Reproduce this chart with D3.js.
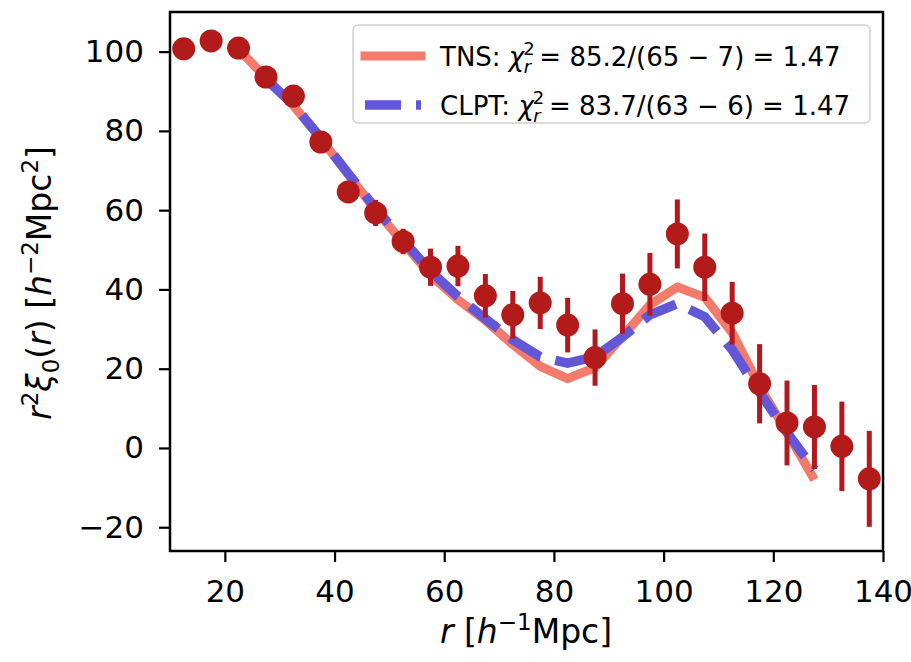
<!DOCTYPE html>
<html>
<head>
<meta charset="utf-8">
<script src="https://cdn.jsdelivr.net/npm/d3@7"></script>
<style>
  body { margin: 0; background: #fff; }
  svg text { font-family: "DejaVu Sans", sans-serif; fill: #000; }
</style>
</head>
<body>
<svg width="911" height="662"></svg>
<script>
// bin centres (h^-1 Mpc) and measured r^2 xi_0
var rData = [12.5, 17.5, 22.5, 27.5, 32.5, 37.5, 42.5, 47.5, 52.5, 57.5, 62.5, 67.5, 72.5,
             77.5, 82.5, 87.5, 92.5, 97.5, 102.5, 107.5, 112.5, 117.5, 122.5, 127.5, 132.5, 137.5];
var xiData = [100.7, 102.7, 100.9, 93.6, 88.8, 77.2, 64.6, 59.3, 52.1, 45.6, 45.9, 38.4, 33.6,
              36.6, 31.0, 22.8, 36.4, 41.3, 54.0, 45.6, 34.0, 16.2, 6.3, 5.3, 0.4, -7.8];
var xiErr = [0.8, 0.9, 1.0, 1.3, 1.6, 2.0, 2.6, 3.3, 3.2, 4.7, 5.1, 5.5, 6.0,
             6.6, 6.9, 7.1, 7.6, 7.9, 8.7, 8.5, 7.9, 10.0, 10.7, 10.6, 11.3, 12.1];

// model curves
var rTNS = [22.5, 27.5, 32.5, 37.5, 42.5, 47.5, 52.5, 57.5, 62.5, 67.5, 72.5, 77.5,
            82.5, 87.5, 92.5, 97.5, 102.5, 107.5, 112.5, 117.5, 122.5, 127.5];
var xiTNS = [100.6, 93.4, 86.4, 78.0, 69.0, 60.0, 51.8, 43.6, 37.4, 32.2, 26.1, 20.6,
             17.5, 20.3, 28.1, 36.1, 40.6, 38.0, 29.1, 15.5, 3.9, -8.0];
var rCLPT = [27.5, 32.5, 37.5, 42.5, 47.5, 52.5, 57.5, 62.5, 67.5, 72.5, 77.5,
             82.5, 87.5, 92.5, 97.5, 102.5, 107.5, 112.5, 117.5, 122.5, 127.5];
var xiCLPT = [93.0, 86.6, 78.2, 69.2, 60.4, 52.4, 44.6, 38.2, 32.6, 27.3, 23.0,
              21.4, 23.0, 28.0, 33.6, 36.4, 33.1, 24.8, 14.0, 3.9, -5.5];

var xTicks = [20, 40, 60, 80, 100, 120, 140];
var yTicks = [-20, 0, 20, 40, 60, 80, 100];

var svg = d3.select("svg");

var x = d3.scaleLinear().domain([10, 140]).range([170, 883]);
var y = d3.scaleLinear().domain([-26, 110]).range([551, 12]);

var line = d3.line()
    .x(function(d) { return x(d[0]); })
    .y(function(d) { return y(d[1]); });

// TNS model
svg.append("path")
    .datum(d3.zip(rTNS, xiTNS))
    .attr("d", line)
    .attr("fill", "none")
    .attr("stroke", "#f47a6c")
    .attr("stroke-width", 9)
    .attr("stroke-linejoin", "round");

// CLPT model
svg.append("path")
    .datum(d3.zip(rCLPT, xiCLPT))
    .attr("d", line)
    .attr("fill", "none")
    .attr("stroke", "#6257d6")
    .attr("stroke-width", 9.5)
    .attr("stroke-dasharray", "36,15");

// data with error bars
var pts = d3.zip(rData, xiData, xiErr);

svg.append("g").selectAll("line")
    .data(pts)
    .enter().append("line")
    .attr("x1", function(d) { return x(d[0]); })
    .attr("x2", function(d) { return x(d[0]); })
    .attr("y1", function(d) { return y(d[1] - d[2]); })
    .attr("y2", function(d) { return y(d[1] + d[2]); })
    .attr("stroke", "#b5171f")
    .attr("stroke-width", 5);

svg.append("g").selectAll("circle")
    .data(pts)
    .enter().append("circle")
    .attr("cx", function(d) { return x(d[0]); })
    .attr("cy", function(d) { return y(d[1]); })
    .attr("r", 11.5)
    .attr("fill", "#b31b1b");

// axes
var xAxis = svg.append("g")
    .attr("transform", "translate(0,551)")
    .call(d3.axisBottom(x).tickValues(xTicks).tickSize(11).tickSizeOuter(0));
xAxis.select(".domain").remove();
xAxis.selectAll(".tick line").attr("stroke-width", 2.2);
xAxis.selectAll(".tick text")
    .attr("y", 51).attr("dy", 0)
    .style("font-family", "DejaVu Sans")
    .style("font-size", "31px");

var yAxis = svg.append("g")
    .attr("transform", "translate(170,0)")
    .call(d3.axisLeft(y).tickValues(yTicks).tickSize(11).tickSizeOuter(0)
      .tickFormat(function(d) { return d < 0 ? "\u2212" + Math.abs(d) : d; }));
yAxis.select(".domain").remove();
yAxis.selectAll(".tick line").attr("stroke-width", 2.2);
yAxis.selectAll(".tick text")
    .attr("x", -26)
    .style("font-family", "DejaVu Sans")
    .style("font-size", "31px");

// frame
svg.append("rect")
    .attr("x", 170).attr("y", 12)
    .attr("width", 713).attr("height", 539)
    .attr("fill", "none")
    .attr("stroke", "#000")
    .attr("stroke-width", 2.5);

// axis labels
var xl = svg.append("text")
    .attr("x", 526).attr("y", 643)
    .attr("text-anchor", "middle")
    .style("font-size", "33px");
xl.append("tspan").style("font-style", "italic").text("r");
xl.append("tspan").text(" [");
xl.append("tspan").style("font-style", "italic").text("h");
xl.append("tspan").attr("dy", -13).style("font-size", "23px").text("\u22121");
xl.append("tspan").attr("dy", 13).text("Mpc]");

var yl = svg.append("text")
    .attr("transform", "translate(51,283) rotate(-90)")
    .attr("text-anchor", "middle")
    .style("font-size", "33px");
yl.append("tspan").style("font-style", "italic").text("r");
yl.append("tspan").attr("dy", -13).style("font-size", "23px").text("2");
yl.append("tspan").attr("dy", 13).style("font-style", "italic").text("\u03be");
yl.append("tspan").attr("dy", 8).style("font-size", "23px").text("0");
yl.append("tspan").attr("dy", -8).text("(");
yl.append("tspan").style("font-style", "italic").text("r");
yl.append("tspan").text(") [");
yl.append("tspan").style("font-style", "italic").text("h");
yl.append("tspan").attr("dy", -13).style("font-size", "23px").text("\u22122");
yl.append("tspan").attr("dy", 13).text("Mpc");
yl.append("tspan").attr("dy", -13).style("font-size", "23px").text("2");
yl.append("tspan").attr("dy", 13).text("]");

// legend
var legendItems = [
  { name: "TNS", chi: "85.2", n: "65", p: "7", val: "1.47", color: "#f47a6c", dash: null, w: 9 },
  { name: "CLPT", chi: "83.7", n: "63", p: "6", val: "1.47", color: "#6257d6", dash: "36,15", w: 9.5 }
];

var legend = svg.append("g");
legend.append("rect")
    .attr("x", 353).attr("y", 25)
    .attr("width", 517).attr("height", 98)
    .attr("rx", 5)
    .attr("fill", "#fff").attr("fill-opacity", 0.8)
    .attr("stroke", "#d0d0d0").attr("stroke-width", 1.5);

legendItems.forEach(function(d, i) {
  var ly = 56 + i * 49;
  legend.append("line")
      .attr("x1", 365).attr("x2", 421)
      .attr("y1", ly).attr("y2", ly)
      .attr("stroke", d.color)
      .attr("stroke-width", d.w)
      .attr("stroke-linecap", d.dash ? "butt" : "square")
      .attr("stroke-dasharray", d.dash);
  var t = legend.append("text")
      .attr("x", 440).attr("y", ly + 10)
      .style("font-size", "26px");
  t.append("tspan").text(d.name + ": ");
  t.append("tspan").style("font-style", "italic").text("\u03c7");
  t.append("tspan").attr("dy", -11).attr("dx", -1).style("font-size", "18px").text("2");
  t.append("tspan").attr("dy", 18).attr("dx", -11).style("font-size", "18px").style("font-style", "italic").text("r");
  t.append("tspan").attr("dy", -7).text(" = " + d.chi + "/(" + d.n + " \u2212 " + d.p + ") = " + d.val);
});
</script>
</body>
</html>
